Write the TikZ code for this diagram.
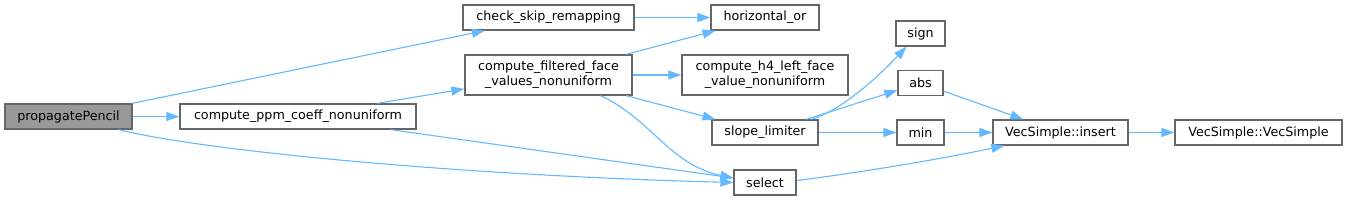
\documentclass[tikz,border=0pt]{standalone}
\usepackage{fontspec}
\setmainfont{DejaVu Sans}
\usetikzlibrary{arrows.meta}

\definecolor{edgeblue}{HTML}{63B8FF}
\definecolor{boxgray}{HTML}{666666}
\definecolor{rootgray}{HTML}{999999}

\begin{document}
\begin{tikzpicture}[x=1pt, y=-1pt,
    fn/.style={draw=boxgray, line width=1.3pt, fill=white, inner sep=0pt,
      minimum height=25pt, align=center, font=\fontsize{12.7}{15.3}\selectfont},
    call/.style={draw=edgeblue, line width=1.1pt, -{Triangle[length=13pt,width=9pt]}}]
    \useasboundingbox (0,0) rectangle (1348,201);

    % Functions, column by column
    \node[fn, fill=rootgray, minimum width=127pt] (prop) at (68.5,116.5) {propagatePencil};
    \node[fn, minimum width=236pt] (ppm) at (298,116.5) {compute\_ppm\_coeff\_nonuniform};
    \node[fn, minimum width=171pt] (check) at (548.5,17.5) {check\_skip\_remapping};
    \node[fn, minimum width=167pt, minimum height=40pt] (filt) at (548.5,75) {compute\_filtered\_face\\\_values\_nonuniform};
    \node[fn, minimum width=108pt] (hor) at (765,17.5) {horizontal\_or};
    \node[fn, minimum width=166pt, minimum height=40pt] (h4) at (765,75) {compute\_h4\_left\_face\\\_value\_nonuniform};
    \node[fn, minimum width=106pt] (slope) at (765,132.5) {slope\_limiter};
    \node[fn, minimum width=62pt] (sel) at (765,182.5) {select};
    \node[fn, minimum width=49pt] (sign) at (920.5,33.5) {sign};
    \node[fn, minimum width=45pt] (abs) at (920.5,83) {abs};
    \node[fn, minimum width=47pt] (min) at (920.5,132.5) {min};
    \node[fn, minimum width=135pt] (ins) at (1060.5,132.5) {VecSimple::insert};
    \node[fn, minimum width=167pt] (vec) at (1258.5,132.5) {VecSimple::VecSimple};

    % Calls
    \draw[call] (prop) -- (check);
    \draw[call] (prop) -- (ppm);
    \draw[call] ([xshift=-14pt]prop.south east) .. controls (200,150) and (450,175) .. (sel.west);
    \draw[call] (ppm) -- (filt);
    \draw[call] (ppm) -- (sel);
    \draw[call] (check) -- (hor);
    \draw[call] (filt) -- (hor);
    \draw[call] (filt) -- (h4);
    \draw[call] (filt) -- (slope);
    \draw[call] ([xshift=52pt]filt.south) .. controls (650,118) and (670,165) .. ([yshift=4.5pt]sel.west);
    \draw[call] ([xshift=-8pt]slope.north east) .. controls (840,112) and (880,75) .. ([xshift=-14pt]sign.south);
    \draw[call] (slope) -- (abs);
    \draw[call] (slope) -- (min);
    \draw[call] (abs) -- (ins);
    \draw[call] (min) -- (ins);
    \draw[call] ([yshift=2pt]sel.east) .. controls (880,170) and (960,155) .. ([xshift=12pt]ins.south west);
    \draw[call] (ins) -- (vec);
\end{tikzpicture}
\end{document}
